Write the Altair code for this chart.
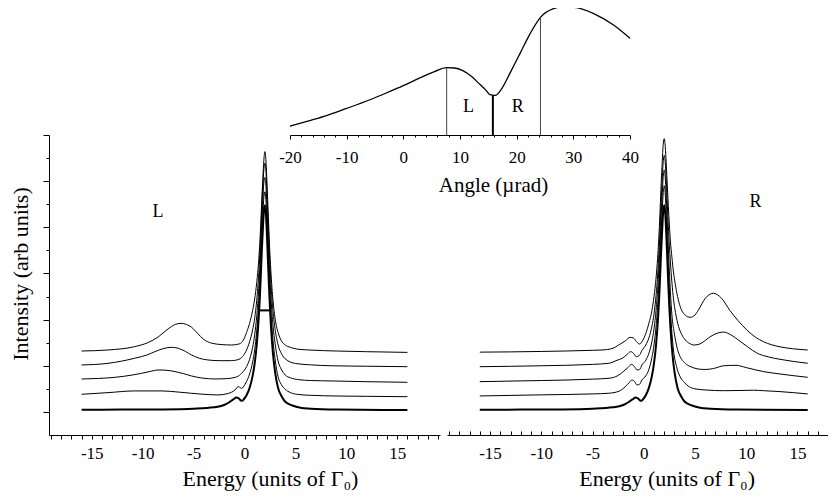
import altair as alt
import pandas as pd

# ---------------- data ----------------
# thick curve at the boundary angle (same in both panels): (energy, intensity)
C0 = [(-16, 0.045), (-12, 0.05), (-8, 0.055), (-5, 0.07), (-3, 0.10), (-2, 0.15), (-1.5, 0.21),
      (-1.1, 0.27), (-0.8, 0.31), (-0.6, 0.30), (-0.4, 0.255), (-0.25, 0.24), (-0.05, 0.28),
      (0.2, 0.36), (0.5, 0.52), (0.8, 0.78), (1.0, 1.05), (1.2, 1.45), (1.4, 2.05), (1.5, 2.45),
      (1.6, 2.95), (1.7, 3.5), (1.8, 3.95), (1.9, 4.35), (2.0, 4.48), (2.1, 4.3), (2.2, 3.85),
      (2.3, 3.3), (2.4, 2.75), (2.5, 2.25), (2.6, 1.85), (2.8, 1.25), (3.0, 0.87), (3.3, 0.52),
      (3.7, 0.32), (4.0, 0.22), (4.7, 0.14), (5.5, 0.09), (6.5, 0.07), (9, 0.05), (16, 0.04)]

LEFT_C1 = [(-16, 0.382), (-13.4, 0.418), (-10.8, 0.455), (-8.1, 0.455), (-6.5, 0.43), (-5.2, 0.404),
           (-3.5, 0.375), (-2.6, 0.368), (-1.6, 0.40), (-0.93, 0.476), (-0.61, 0.548), (-0.28, 0.512),
           (0.05, 0.60), (0.2, 0.66), (0.5, 0.82), (0.8, 1.08), (1.0, 1.35), (1.2, 1.75), (1.4, 2.35),
           (1.5, 2.75), (1.6, 3.25), (1.7, 3.8), (1.8, 4.25), (1.9, 4.65), (2.0, 4.77), (2.1, 4.6),
           (2.2, 4.15), (2.3, 3.6), (2.4, 3.05), (2.5, 2.55), (2.6, 2.15), (2.8, 1.55), (3.0, 1.15),
           (3.3, 0.76), (3.6, 0.6), (4.0, 0.49), (4.5, 0.42), (5.2, 0.38), (6.5, 0.36), (9, 0.345),
           (12, 0.338), (16, 0.33)]

LEFT_C2 = [(-16, 0.714), (-12.7, 0.75), (-11.0, 0.80), (-10.1, 0.837), (-9.2, 0.88), (-8.5, 0.909),
           (-7.8, 0.905), (-6.8, 0.873), (-6.0, 0.83), (-5.2, 0.779), (-4.2, 0.735), (-2.9, 0.714),
           (-1.8, 0.72), (-0.9, 0.75), (-0.5, 0.79), (-0.28, 0.837), (0.2, 0.98), (0.5, 1.14),
           (0.8, 1.40), (1.0, 1.67), (1.2, 2.07), (1.4, 2.67), (1.5, 3.07), (1.6, 3.57), (1.7, 4.12),
           (1.8, 4.57), (1.9, 4.97), (2.0, 5.08), (2.1, 4.92), (2.2, 4.47), (2.3, 3.92), (2.4, 3.37),
           (2.5, 2.87), (2.6, 2.47), (2.8, 1.87), (3.0, 1.49), (3.3, 1.1), (3.6, 0.93), (4.0, 0.80),
           (4.5, 0.74), (5.3, 0.70), (6.5, 0.68), (8.6, 0.671), (12, 0.655), (16, 0.642)]

LEFT_C3 = [(-16, 1.017), (-13.4, 1.053), (-10.8, 1.162), (-9.5, 1.24), (-8.8, 1.306), (-8.0, 1.37),
           (-7.2, 1.40), (-6.5, 1.378), (-5.8, 1.31), (-5.2, 1.234), (-4.4, 1.16), (-3.6, 1.126),
           (-2.4, 1.11), (-1.26, 1.111), (-0.44, 1.15), (-0.12, 1.22), (0.2, 1.34), (0.5, 1.52),
           (0.8, 1.78), (1.0, 2.03), (1.2, 2.42), (1.4, 3.0), (1.5, 3.4), (1.6, 3.88), (1.7, 4.43),
           (1.8, 4.88), (1.9, 5.25), (2.0, 5.39), (2.1, 5.23), (2.2, 4.78), (2.3, 4.23), (2.4, 3.68),
           (2.5, 3.18), (2.6, 2.78), (2.8, 2.18), (3.0, 1.8), (3.3, 1.45), (3.66, 1.25), (4.0, 1.15),
           (5.0, 1.05), (6.5, 1.02), (8.6, 1.0), (12, 0.99), (16, 0.98)]

LEFT_C4 = [(-16, 1.32), (-13.4, 1.342), (-10.8, 1.414), (-9.5, 1.50), (-8.5, 1.62), (-7.5, 1.80),
           (-6.8, 1.895), (-6.24, 1.92), (-5.7, 1.895), (-5.19, 1.833), (-4.6, 1.70), (-4.0, 1.57),
           (-3.23, 1.49), (-2.3, 1.46), (-1.26, 1.45), (-0.5, 1.475), (-0.1, 1.56), (0.2, 1.72),
           (0.5, 1.92), (0.8, 2.2), (1.0, 2.45), (1.2, 2.8), (1.4, 3.3), (1.5, 3.65), (1.6, 4.1),
           (1.7, 4.6), (1.8, 5.05), (1.9, 5.45), (2.0, 5.64), (2.1, 5.46), (2.2, 5.01), (2.3, 4.46),
           (2.4, 3.91), (2.5, 3.41), (2.6, 3.01), (2.8, 2.41), (3.0, 2.03), (3.3, 1.72), (3.6, 1.55),
           (4.0, 1.45), (4.5, 1.40), (5.2, 1.36), (6.5, 1.34), (9, 1.32), (12, 1.305), (16, 1.29)]

RIGHT_C1 = [(-16, 0.346), (-10, 0.37), (-5, 0.39), (-3.4, 0.405), (-2.4, 0.45), (-1.8, 0.548),
            (-1.4, 0.64), (-1.15, 0.693), (-0.9, 0.66), (-0.66, 0.584), (-0.4, 0.6), (-0.18, 0.693),
            (0.2, 0.78), (0.5, 0.92), (0.8, 1.18), (1.0, 1.45), (1.2, 1.85), (1.4, 2.45), (1.5, 2.85),
            (1.6, 3.35), (1.7, 3.9), (1.8, 4.35), (1.9, 4.75), (2.0, 4.9), (2.1, 4.72), (2.2, 4.25),
            (2.3, 3.7), (2.4, 3.15), (2.5, 2.65), (2.6, 2.2), (2.75, 1.7), (2.9, 1.34), (3.2, 0.98),
            (3.56, 0.76), (4.0, 0.63), (4.4, 0.55), (5.0, 0.5), (6.0, 0.476), (7.8, 0.46), (9.5, 0.465),
            (10.7, 0.47), (11.7, 0.46), (13.3, 0.44), (16, 0.39)]

RIGHT_C2 = [(-16, 0.656), (-10, 0.68), (-5, 0.71), (-3.4, 0.729), (-2.5, 0.79), (-2.0, 0.873),
            (-1.5, 0.97), (-1.2, 1.03), (-0.9, 0.98), (-0.66, 0.909), (-0.4, 0.92), (-0.18, 1.017),
            (0.2, 1.12), (0.5, 1.27), (0.8, 1.53), (1.0, 1.8), (1.2, 2.2), (1.4, 2.8), (1.5, 3.2),
            (1.6, 3.7), (1.7, 4.25), (1.8, 4.7), (1.9, 5.1), (2.0, 5.24), (2.1, 5.07), (2.2, 4.62),
            (2.3, 4.1), (2.4, 3.55), (2.5, 3.05), (2.6, 2.6), (2.75, 2.1), (3.0, 1.68), (3.23, 1.41),
            (3.5, 1.22), (3.88, 1.09), (4.3, 1.01), (4.7, 0.97), (5.3, 0.93), (6.0, 0.92), (6.8, 0.94),
            (7.8, 1.0), (9.0, 1.01), (10.0, 0.96), (11.7, 0.873), (13.3, 0.822), (16, 0.75)]

RIGHT_C3 = [(-16, 0.98), (-10, 1.0), (-5, 1.03), (-3.4, 1.054), (-2.6, 1.12), (-2.1, 1.162),
            (-1.6, 1.25), (-1.28, 1.306), (-1.0, 1.27), (-0.73, 1.198), (-0.45, 1.22), (-0.18, 1.33),
            (0.2, 1.45), (0.5, 1.6), (0.8, 1.86), (1.0, 2.12), (1.2, 2.52), (1.4, 3.12), (1.5, 3.52),
            (1.6, 4.02), (1.7, 4.57), (1.8, 5.02), (1.9, 5.42), (2.0, 5.56), (2.1, 5.4), (2.2, 5.0),
            (2.3, 4.5), (2.4, 4.02), (2.5, 3.6), (2.6, 3.25), (2.75, 2.8), (2.9, 2.45), (3.1, 2.15),
            (3.4, 1.85), (3.7, 1.68), (4.05, 1.56), (4.5, 1.48), (4.85, 1.45), (5.3, 1.46), (5.7, 1.5),
            (6.3, 1.6), (6.8, 1.67), (7.8, 1.73), (8.5, 1.67), (9.4, 1.53), (10.2, 1.4), (11.0, 1.28),
            (12.2, 1.19), (13.3, 1.14), (16, 1.054)]

RIGHT_C4 = [(-16, 1.295), (-10, 1.31), (-5, 1.335), (-4.07, 1.342), (-3.0, 1.38), (-2.46, 1.45),
            (-1.8, 1.54), (-1.32, 1.616), (-1.0, 1.6), (-0.7, 1.52), (-0.4, 1.47), (-0.1, 1.55),
            (0.2, 1.7), (0.5, 1.92), (0.8, 2.2), (1.0, 2.5), (1.2, 2.9), (1.4, 3.5), (1.5, 3.9),
            (1.6, 4.4), (1.7, 4.95), (1.8, 5.4), (1.9, 5.8), (2.0, 5.92), (2.1, 5.75), (2.2, 5.35),
            (2.3, 4.9), (2.4, 4.45), (2.5, 4.05), (2.6, 3.7), (2.75, 3.35), (2.9, 3.03), (3.07, 2.78),
            (3.3, 2.5), (3.56, 2.28), (4.04, 2.1), (4.53, 2.05), (5.0, 2.1), (5.34, 2.21), (6.0, 2.46),
            (6.8, 2.57), (7.6, 2.46), (8.4, 2.2), (9.2, 1.98), (10.06, 1.775), (10.9, 1.62),
            (11.7, 1.52), (13.3, 1.41), (14.5, 1.37), (16, 1.342)]

# inset: reflectivity vs angle
INSET = [(-20, 0.27), (-17, 0.41), (-14, 0.56), (-10, 0.80), (-6, 1.05), (-3, 1.26), (0, 1.48),
         (3, 1.72), (5.5, 1.90), (7.6, 2.02), (9.0, 2.01), (10.5, 1.93), (12.0, 1.76), (13.5, 1.52),
         (14.6, 1.34), (15.3, 1.21), (16.2, 1.19), (17.4, 1.40), (18.8, 1.85), (20.6, 2.45),
         (22.4, 3.05), (24.2, 3.53), (26.5, 3.79), (28.5, 3.85), (30.6, 3.82), (33.5, 3.65),
         (37.1, 3.30), (40, 2.9)]
INSET_THIN_RULES = [(7.65, 2.02), (24.2, 3.53)]
INSET_THICK_RULE = [(15.8, 1.19)]
INSET_LABELS = [("L", 11.5, 0.69), ("R", 20.2, 0.69)]

FWHM_BAR = [(1.47, 2.5, 2.2)]
LEFT_LABEL = [("L", -8.5, 4.22)]
RIGHT_LABEL = [("R", 10.9, 4.44)]

ENERGY_TICKS = list(range(-19, 20))
INTENSITY_MAJOR = [0, 1, 2, 3, 4, 5, 6]
INTENSITY_MINOR = [0.5, 1.5, 2.5, 3.5, 4.5, 5.5]
ANGLE_MAJOR = [-20, -10, 0, 10, 20, 30, 40]
ANGLE_MINOR = [a for a in range(-20, 41, 2) if a % 10 != 0]


def curves_df(named):
    rows = []
    for name, pts in named.items():
        for e, i in pts:
            rows.append({"curve": name, "E": e, "I": i})
    return pd.DataFrame(rows)


left_thin = curves_df({"c1": LEFT_C1, "c2": LEFT_C2, "c3": LEFT_C3, "c4": LEFT_C4})
right_thin = curves_df({"c1": RIGHT_C1, "c2": RIGHT_C2, "c3": RIGHT_C3, "c4": RIGHT_C4})
thick = curves_df({"c0": C0})
inset_df = pd.DataFrame(INSET, columns=["A", "R"])
thin_rules = pd.DataFrame(INSET_THIN_RULES, columns=["A", "top"]).assign(base=0.0)
thick_rule = pd.DataFrame(INSET_THICK_RULE, columns=["A", "top"]).assign(base=0.0)
inset_lab = pd.DataFrame(INSET_LABELS, columns=["t", "A", "R"])
fwhm_df = pd.DataFrame(FWHM_BAR, columns=["E1", "E2", "I"])
left_lab = pd.DataFrame(LEFT_LABEL, columns=["t", "E", "I"])
right_lab = pd.DataFrame(RIGHT_LABEL, columns=["t", "E", "I"])

FONT = "Liberation Serif"

# ---------------- scales (pixel ranges place the panels) ----------------
x_left = alt.Scale(domain=[-19.2, 19.2], range=[41, 432], nice=False, zero=False)
x_right = alt.Scale(domain=[-19.2, 19.2], range=[439, 832.5], nice=False, zero=False)
y_pan = alt.Scale(domain=[-0.5, 6], range=[427, 127], nice=False, zero=False)
x_ins = alt.Scale(domain=[-20, 40], range=[282, 622], nice=False, zero=False)
y_ins = alt.Scale(domain=[0, 4], range=[127, -6.33], nice=False, zero=False)

num_label = "(datum.value < 0 ? '-' : '') + abs(datum.value)"
energy_label_expr = "(datum.value % 5 === 0 && abs(datum.value) <= 15) ? (" + num_label + ") : ''"

common_lab = dict(labelBaseline="alphabetic", labelFontSize=17, labelFont=FONT, labelColor="black",
                  labelFlush=False, labelOverlap=False, labelBound=False, grid=False)
common_title = dict(titleFont=FONT, titleColor="black", titleFontWeight="normal",
                    titleAlign="center", titleBaseline="alphabetic")

ax_left_x = alt.Axis(orient="bottom", offset=-57, values=ENERGY_TICKS, labelExpr=energy_label_expr,
                     tickSize=4, labelPadding=19.5,
                     title="Energy (units of Γ₀)", titleFontSize=22, titleX=262, titleY=50,
                     **common_lab, **common_title)
# right energy axis: labels + line at the bottom, ticks drawn inward by a second (top) axis
ax_right_x = alt.Axis(orient="bottom", offset=-57, values=ENERGY_TICKS, labelExpr=energy_label_expr,
                      tickSize=4, tickOpacity=0, labelPadding=19.5,
                      title="Energy (units of Γ₀)", titleFontSize=22, titleX=658.7, titleY=50,
                      **common_lab, **common_title)
ax_right_x_ticks = alt.Axis(orient="top", offset=-427, values=ENERGY_TICKS, tickSize=4,
                            labels=False, domain=False, title=None, grid=False)
ax_left_y = alt.Axis(orient="left", offset=-41, values=INTENSITY_MAJOR, labels=False, tickSize=6,
                     title="Intensity (arb units)", titleFontSize=22, titleAngle=-90, titleX=-22,
                     titleY=265.5, grid=False, **common_title)
ax_left_y_minor = alt.Axis(orient="left", offset=-41, values=INTENSITY_MINOR, labels=False,
                           tickSize=3, domain=False, title=None, grid=False)
ax_inset_x = alt.Axis(orient="bottom", offset=-357, values=ANGLE_MAJOR, labelExpr=num_label,
                      tickSize=4, labelPadding=23, title="Angle (µrad)", titleFontSize=21,
                      titleX=485, titleY=56.7, **common_lab, **common_title)
ax_inset_x_minor = alt.Axis(orient="bottom", offset=-357, values=ANGLE_MINOR, tickSize=2,
                            labels=False, domain=False, title=None, grid=False)

# ---------------- left panel ----------------
left_thin_l = alt.Chart(left_thin).mark_line(color="black", strokeWidth=1, interpolate="monotone").encode(
    x=alt.X("E:Q", scale=x_left, axis=ax_left_x),
    y=alt.Y("I:Q", scale=y_pan, axis=ax_left_y),
    detail="curve:N",
)
left_thick_l = alt.Chart(thick).mark_line(color="black", strokeWidth=2, interpolate="monotone").encode(
    x=alt.X("E:Q", scale=x_left, axis=None),
    y=alt.Y("I:Q", scale=y_pan, axis=ax_left_y_minor),
)
left_bar = alt.Chart(fwhm_df).mark_rule(color="black", strokeWidth=2).encode(
    x=alt.X("E1:Q", scale=x_left, axis=None), x2="E2:Q",
    y=alt.Y("I:Q", scale=y_pan, axis=None),
)
left_text = alt.Chart(left_lab).mark_text(font=FONT, fontSize=18, align="center",
                                          baseline="alphabetic", color="black").encode(
    x=alt.X("E:Q", scale=x_left, axis=None),
    y=alt.Y("I:Q", scale=y_pan, axis=None),
    text="t:N",
)
left_panel = alt.layer(left_thin_l, left_thick_l, left_bar, left_text).resolve_axis(
    x="independent", y="independent")

# ---------------- right panel ----------------
right_thin_l = alt.Chart(right_thin).mark_line(color="black", strokeWidth=1, interpolate="monotone").encode(
    x=alt.X("E:Q", scale=x_right, axis=ax_right_x),
    y=alt.Y("I:Q", scale=y_pan, axis=None),
    detail="curve:N",
)
right_thick_l = alt.Chart(thick).mark_line(color="black", strokeWidth=2, interpolate="monotone").encode(
    x=alt.X("E:Q", scale=x_right, axis=ax_right_x_ticks),
    y=alt.Y("I:Q", scale=y_pan, axis=None),
)
right_text = alt.Chart(right_lab).mark_text(font=FONT, fontSize=18, align="center",
                                            baseline="alphabetic", color="black").encode(
    x=alt.X("E:Q", scale=x_right, axis=None),
    y=alt.Y("I:Q", scale=y_pan, axis=None),
    text="t:N",
)
right_panel = alt.layer(right_thin_l, right_thick_l, right_text).resolve_axis(
    x="independent", y="independent")

# ---------------- inset ----------------
inset_line = alt.Chart(inset_df).mark_line(color="black", strokeWidth=1.3, interpolate="monotone").encode(
    x=alt.X("A:Q", scale=x_ins, axis=ax_inset_x),
    y=alt.Y("R:Q", scale=y_ins, axis=None),
)
inset_thin = alt.Chart(thin_rules).mark_rule(color="#444444", strokeWidth=1).encode(
    x=alt.X("A:Q", scale=x_ins, axis=ax_inset_x_minor),
    y=alt.Y("base:Q", scale=y_ins, axis=None), y2="top:Q",
)
inset_thick = alt.Chart(thick_rule).mark_rule(color="black", strokeWidth=2).encode(
    x=alt.X("A:Q", scale=x_ins, axis=None),
    y=alt.Y("base:Q", scale=y_ins, axis=None), y2="top:Q",
)
inset_text = alt.Chart(inset_lab).mark_text(font=FONT, fontSize=18, align="center",
                                            baseline="alphabetic", color="black").encode(
    x=alt.X("A:Q", scale=x_ins, axis=None),
    y=alt.Y("R:Q", scale=y_ins, axis=None),
    text="t:N",
)
inset = alt.layer(inset_line, inset_thin, inset_thick, inset_text).resolve_axis(
    x="independent", y="independent")

chart = alt.layer(left_panel, right_panel, inset).resolve_scale(
    x="independent", y="independent"
).properties(
    width=820, height=484, padding=0, background="white",
    autosize=alt.AutoSizeParams(type="none"),
).configure_view(stroke=None).configure_axis(
    labelFont=FONT, titleFont=FONT, labelColor="black", titleColor="black",
    domainColor="black", tickColor="black", domainWidth=1, tickWidth=1,
    titleFontWeight="normal",
)

chart.save("out.html", embed_options={"renderer": "svg", "actions": False})
